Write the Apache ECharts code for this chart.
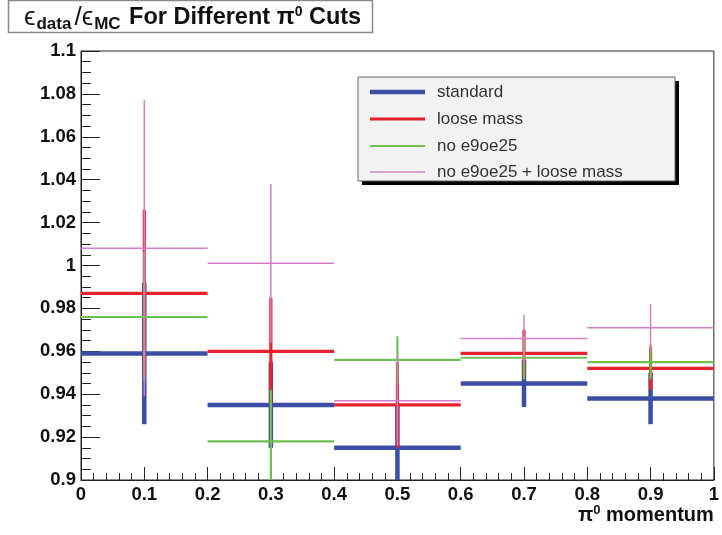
<!DOCTYPE html>
<html>
<head>
<meta charset="utf-8">
<script src="https://cdn.jsdelivr.net/npm/echarts@6/dist/echarts.min.js"></script>
<style>html,body{margin:0;padding:0;background:#fff}#c{width:722px;height:535px}</style>
</head>
<body>
<div id="c"></div>
<script>
// ---- data ----
const binCenters = [0.1, 0.3, 0.5, 0.7, 0.9];
const binWidth = 0.2;
const seriesNames = ['standard', 'loose mass', 'no e9oe25', 'no e9oe25 + loose mass'];
const standardVals = [0.959, 0.935, 0.915, 0.945, 0.938];
const standardErrs = [0.033, 0.020, 0.020, 0.011, 0.012];
const looseVals = [0.987, 0.960, 0.935, 0.959, 0.952];
const looseErrs = [0.039, 0.025, 0.020, 0.011, 0.010];
const noE9Vals = [0.976, 0.918, 0.956, 0.957, 0.955];
const noE9Errs = [0.030, 0.024, 0.011, 0.010, 0.008];
const noE9LooseVals = [1.008, 1.001, 0.937, 0.966, 0.971];
const noE9LooseErrs = [0.069, 0.037, 0.021, 0.011, 0.011];
const yTickLabels = ['0.9', '0.92', '0.94', '0.96', '0.98', '1', '1.02', '1.04', '1.06', '1.08', '1.1'];
const xTickLabels = ['0', '0.1', '0.2', '0.3', '0.4', '0.5', '0.6', '0.7', '0.8', '0.9', '1'];

// ---- styles ----
const colors = ['#3a4ea6', '#e8232b', '#6fc053', '#d47ec9'];
const widths = [4.5, 3.2, 2.2, 1.5];
const valsList = [standardVals, looseVals, noE9Vals, noE9LooseVals];
const errsList = [standardErrs, looseErrs, noE9Errs, noE9LooseErrs];
const FONT = '"Liberation Sans", Arial, Helvetica, sans-serif';

const chart = echarts.init(document.getElementById('c'));

function makeRender(color, w) {
  return function (params, api) {
    const x = api.value(0), y = api.value(1), e = api.value(2);
    const a = api.coord([x - binWidth / 2, y]);
    const b = api.coord([x + binWidth / 2, y]);
    const t = api.coord([x, y + e]);
    const d = api.coord([x, y - e]);
    return {
      type: 'group',
      children: [
        { type: 'line', shape: { x1: a[0], y1: a[1], x2: b[0], y2: b[1] }, style: { stroke: color, lineWidth: w } },
        { type: 'line', shape: { x1: t[0], y1: t[1], x2: d[0], y2: d[1] }, style: { stroke: color, lineWidth: w } }
      ]
    };
  };
}

const series = seriesNames.map((name, i) => ({
  name: name,
  type: 'custom',
  clip: true,
  renderItem: makeRender(colors[i], widths[i]),
  encode: { x: 0, y: 1 },
  data: binCenters.map((c, k) => [c, valsList[i][k], errsList[i][k]]),
  z: 2 + i
}));

// title box + legend via graphic
const legX = 358, legY = 77, legW = 317, legH = 104;
const rowYs = [92, 119, 146, 172];
const extraGraphics = [
  { type: 'rect', shape: { x: 8.5, y: 0.5, width: 364, height: 32 }, style: { fill: '#fff', stroke: '#8a8a8a', lineWidth: 1.5 }, z: 0 },
  { type: 'rect', shape: { x: legX + 4, y: legY + 4, width: legW, height: legH }, style: { fill: '#000' }, z: 10 },
  { type: 'rect', shape: { x: legX, y: legY, width: legW, height: legH }, style: { fill: '#f2f2f2', stroke: '#666', lineWidth: 1 }, z: 11 }
];
seriesNames.forEach((n, i) => {
  extraGraphics.push({ type: 'line', shape: { x1: 370, y1: rowYs[i], x2: 425, y2: rowYs[i] }, style: { stroke: colors[i], lineWidth: widths[i] }, z: 12 });
  extraGraphics.push({ type: 'text', x: 437, y: rowYs[i], style: { text: n, font: '17px ' + FONT, fill: '#333', verticalAlign: 'middle' }, z: 12 });
});

chart.setOption({
  backgroundColor: '#fff',
  animation: false,
  title: {
    text: '{e|ϵ}{sub|data}{e|/ϵ}{sub|MC}{b| For Different π}{sup|0}{b| Cuts}',
    left: 23, top: 2,
    padding: [0, 0, 0, 0],
    z: 5,
    textStyle: {
      rich: {
        e: { fontFamily: FONT, fontSize: 26, fontWeight: 'normal', color: '#111', lineHeight: 32, padding: [0, 1, 0, 1] },
        b: { fontFamily: FONT, fontSize: 23.5, fontWeight: 'bold', color: '#111', lineHeight: 32 },
        sub: { fontFamily: FONT, fontSize: 17, fontWeight: 'bold', color: '#111', padding: [13, 2, 0, 0], lineHeight: 32 },
        sup: { fontFamily: FONT, fontSize: 14, fontWeight: 'bold', color: '#111', padding: [0, 0, 12, 0], lineHeight: 32 }
      }
    }
  },
  grid: { left: 81, right: 7, top: 51, bottom: 55, show: true, borderColor: '#222', borderWidth: 1, backgroundColor: 'transparent' },
  xAxis: {
    type: 'value', min: 0, max: 1, interval: 0.1,
    name: '{a|π}{s|0}{a| momentum}',
    nameLocation: 'end', nameGap: 0,
    nameTextStyle: {
      align: 'right', verticalAlign: 'top', padding: [24, 0, 0, 0],
      rich: {
        a: { fontFamily: FONT, fontSize: 20, fontWeight: 'bold', color: '#111' },
        s: { fontFamily: FONT, fontSize: 13, fontWeight: 'bold', color: '#111', padding: [0, 0, 10, 0] }
      }
    },
    axisLine: { show: true, lineStyle: { color: '#222', width: 1 } },
    axisTick: { show: true, inside: true, length: 13, lineStyle: { color: '#222' } },
    minorTick: { show: true, splitNumber: 5, length: 7, lineStyle: { color: '#222' } },
    splitLine: { show: false },
    axisLabel: {
      margin: 5, fontFamily: FONT, fontSize: 18.5, fontWeight: 'bold', color: '#111',
      formatter: function (v) { return xTickLabels[Math.round(v * 10)]; }
    }
  },
  yAxis: {
    type: 'value', min: 0.9, max: 1.1, interval: 0.02,
    axisLine: { show: true, lineStyle: { color: '#222', width: 1 } },
    axisTick: { show: true, inside: true, length: 19, lineStyle: { color: '#222' } },
    minorTick: { show: true, splitNumber: 4, length: 10, lineStyle: { color: '#222' } },
    splitLine: { show: false },
    axisLabel: {
      margin: 5, fontFamily: FONT, fontSize: 18.5, fontWeight: 'bold', color: '#111',
      formatter: function (v) { return yTickLabels[Math.round((v - 0.9) / 0.02)]; }
    }
  },
  graphic: extraGraphics,
  series: series
});
</script>
</body>
</html>
